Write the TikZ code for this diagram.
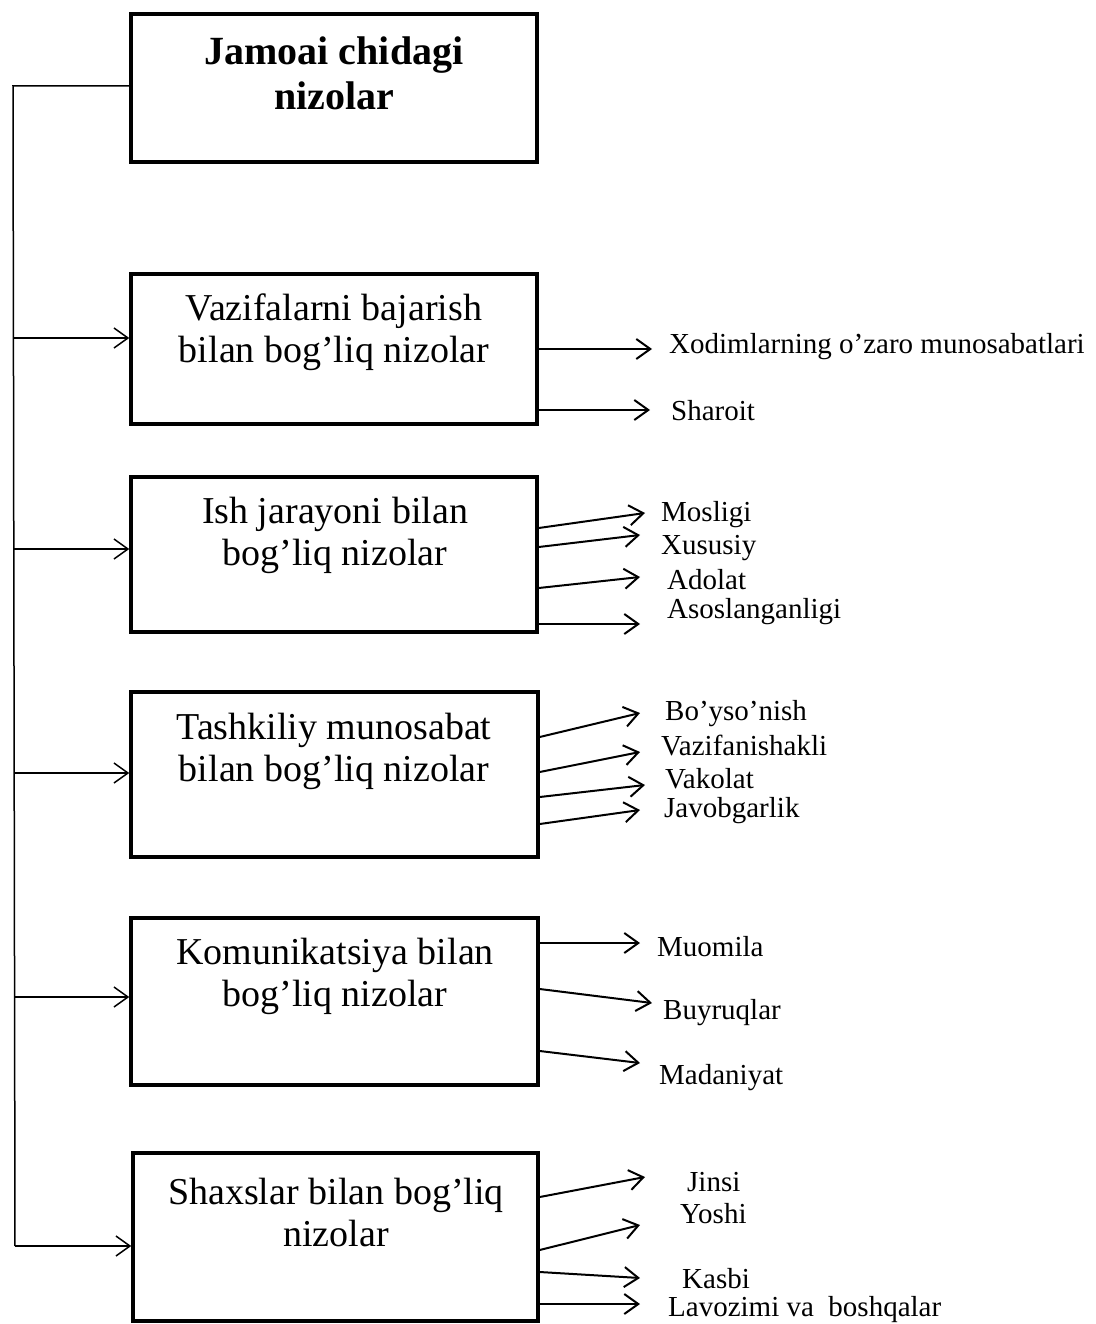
\documentclass[tikz,border=0pt]{standalone}
\usepackage{fontspec}
\setmainfont{Liberation Serif}
\usetikzlibrary{arrows.meta}
\begin{document}
\begin{tikzpicture}[x=1pt,y=-1pt,
  box/.style={draw, line width=3.5pt, inner sep=0pt},
  boxtext/.style={align=center, inner sep=0pt, font=\fontsize{38}{42}\selectfont},
  titletext/.style={align=center, inner sep=0pt, font=\fontsize{40}{45}\selectfont\bfseries},
  lab/.style={anchor=west, inner sep=0pt, font=\fontsize{29}{32}\selectfont},
  arr/.style={line width=2pt, -{Straight Barb[length=14pt,width=20pt,line width=2pt]}},
  larr/.style={line width=1.5pt, -{Straight Barb[length=14pt,width=20pt,line width=1.5pt]}},
  trunk/.style={line width=1.5pt}]
\useasboundingbox (0,0) rectangle (1095,1324);

% boxes
\node[box, minimum width=406pt, minimum height=148pt] (b0) at (334,88) {};
\node[box, minimum width=406pt, minimum height=150pt] (b1) at (334,349) {};
\node[box, minimum width=406pt, minimum height=155pt] (b2) at (334,554.5) {};
\node[box, minimum width=407pt, minimum height=165pt] (b3) at (334.5,774.5) {};
\node[box, minimum width=407pt, minimum height=167pt] (b4) at (334.5,1001.5) {};
\node[box, minimum width=405pt, minimum height=168pt] (b5) at (335.5,1237) {};

% box texts
\node[titletext] (t0) at (334,73) {Jamoai chidagi\\nizolar};
\node[boxtext] (t1) at (334,332) {Vazifalarni bajarish\\bilan bog’liq nizolar};
\node[boxtext] (t2) at (335,535) {Ish jarayoni bilan\\bog’liq nizolar};
\node[boxtext] (t3) at (334,751) {Tashkiliy munosabat\\bilan bog’liq nizolar};
\node[boxtext] (t4) at (335,976) {Komunikatsiya bilan\\bog’liq nizolar};
\node[boxtext] (t5) at (336,1212) {Shaxslar bilan bog’liq\\nizolar};

% trunk
\coordinate (tt) at (13,86);
\coordinate (tb) at (15,1246);
\draw[trunk] (b0.west |- tt) -- (tt) -- (tb);
\coordinate (k1) at (14,338);
\coordinate (k2) at (14,549);
\coordinate (k3) at (14.5,773);
\coordinate (k4) at (15,997);
\draw[larr] (k1) -- (b1.west |- k1);
\draw[larr] (k2) -- (b2.west |- k2);
\draw[larr] (k3) -- (b3.west |- k3);
\draw[larr] (k4) -- (b4.west |- k4);
\draw[larr] (tb) -- (b5.west |- tb);

% labels
\node[lab] (l11) at (669,347) {Xodimlarning o’zaro munosabatlari};
\node[lab] (l12) at (671,411) {Sharoit};
\node[lab] (l21) at (661,515) {Mosligi};
\node[lab] (l22) at (661,548) {Xususiy};
\node[lab] (l23) at (667,580) {Adolat};
\node[lab] (l24) at (667,612) {Asoslanganligi};
\node[lab] (l31) at (665,714) {Bo’yso’nish};
\node[lab] (l32) at (661,746) {Vazifanishakli};
\node[lab] (l33) at (665,779) {Vakolat};
\node[lab] (l34) at (664,811) {Javobgarlik};
\node[lab] (l41) at (657,947) {Muomila};
\node[lab] (l42) at (663,1013) {Buyruqlar};
\node[lab] (l43) at (659,1078) {Madaniyat};
\node[lab] (l51) at (687,1182) {Jinsi};
\node[lab] (l52) at (680,1214) {Yoshi};
\node[lab] (l53) at (682,1279) {Kasbi};
\node[lab] (l54) at (668,1310) {Lavozimi va\ \ boshqalar};

% arrow start / end coordinates
\coordinate (s11) at (0,349);  \coordinate (e11) at (652,349);
\coordinate (s12) at (0,410);  \coordinate (e12) at (650,410);
\coordinate (s21) at (0,528);  \coordinate (e21) at (645,513);
\coordinate (s22) at (0,547);  \coordinate (e22) at (640,535);
\coordinate (s23) at (0,588);  \coordinate (e23) at (640,577);
\coordinate (s24) at (0,624);  \coordinate (e24) at (640,624);
\coordinate (s31) at (0,737);  \coordinate (e31) at (640,713);
\coordinate (s32) at (0,772);  \coordinate (e32) at (640,752);
\coordinate (s33) at (0,797);  \coordinate (e33) at (645,785);
\coordinate (s34) at (0,824);  \coordinate (e34) at (640,810);
\coordinate (s41) at (0,943);  \coordinate (e41) at (640,943);
\coordinate (s42) at (0,989);  \coordinate (e42) at (652,1003);
\coordinate (s43) at (0,1051); \coordinate (e43) at (640,1063);
\coordinate (s51) at (0,1197); \coordinate (e51) at (645,1177);
\coordinate (s52) at (0,1250); \coordinate (e52) at (640,1225);
\coordinate (s53) at (0,1272); \coordinate (e53) at (640,1278);
\coordinate (s54) at (0,1304); \coordinate (e54) at (640,1304);

\draw[arr] (b1.east |- s11) -- (e11);
\draw[arr] (b1.east |- s12) -- (e12);
\draw[arr] (b2.east |- s21) -- (e21);
\draw[arr] (b2.east |- s22) -- (e22);
\draw[arr] (b2.east |- s23) -- (e23);
\draw[arr] (b2.east |- s24) -- (e24);
\draw[arr] (b3.east |- s31) -- (e31);
\draw[arr] (b3.east |- s32) -- (e32);
\draw[arr] (b3.east |- s33) -- (e33);
\draw[arr] (b3.east |- s34) -- (e34);
\draw[arr] (b4.east |- s41) -- (e41);
\draw[arr] (b4.east |- s42) -- (e42);
\draw[arr] (b4.east |- s43) -- (e43);
\draw[arr] (b5.east |- s51) -- (e51);
\draw[arr] (b5.east |- s52) -- (e52);
\draw[arr] (b5.east |- s53) -- (e53);
\draw[arr] (b5.east |- s54) -- (e54);
\end{tikzpicture}
\end{document}
